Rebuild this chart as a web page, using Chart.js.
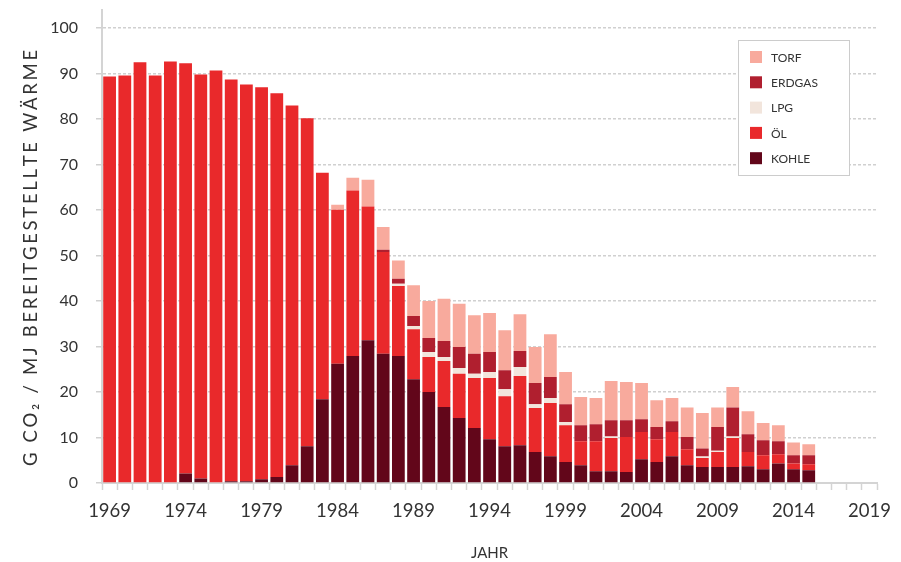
<!DOCTYPE html>
<html>
<head>
<meta charset="utf-8">
<script src="https://cdn.jsdelivr.net/npm/chart.js@4"></script>
<style>
  html, body { margin: 0; padding: 0; background: #fff; }
  #wrap { width: 901px; height: 562px; position: relative; }
</style>
</head>
<body>
<div id="wrap"><canvas id="mainGraph" width="901" height="562"></canvas></div>
<script>
// years on the x axis (data runs 1969-2015, axis continues to 2019)
const years = [1969,1970,1971,1972,1973,1974,1975,1976,1977,1978,1979,1980,1981,1982,1983,1984,1985,1986,1987,1988,
  1989,1990,1991,1992,1993,1994,1995,1996,1997,1998,1999,2000,2001,2002,2003,2004,2005,2006,2007,2008,
  2009,2010,2011,2012,2013,2014,2015,2016,2017,2018,2019];

// g CO2 / MJ, one value per year, stacked bottom -> top
const kohle = [0,0,0,0,0,2.1,1.0,0,0.4,0.4,0.8,1.3,3.9,8.1,18.4,26.2,27.9,31.4,28.4,27.9,
  22.8,20.0,16.7,14.3,12.1,9.6,8.1,8.3,6.8,5.9,4.6,3.9,2.6,2.6,2.4,5.2,4.6,5.9,3.9,3.5,
  3.5,3.5,3.7,3.0,4.3,3.0,2.8];
const oel = [89.4,89.6,92.5,89.6,92.7,90.2,88.8,90.7,88.3,87.2,86.2,84.4,79.1,72.1,49.8,33.9,36.4,29.4,22.4,15.4,
  11.0,7.7,10.1,9.7,11.0,13.5,11.0,15.2,9.7,11.7,8.1,5.3,6.6,7.3,7.7,6.0,5.0,5.3,3.5,2.0,
  3.3,6.4,3.1,3.1,2.0,1.3,1.3];
const lpg = [0,0,0,0,0,0,0,0,0,0,0,0,0,0,0,0,0,0,0,0.5,
  0.7,1.1,0.9,1.3,0.9,1.3,1.5,2.0,0.8,1.1,0.7,0,0,0.3,0,0,0,0,0,0.3,
  0.3,0.3,0,0,0,0,0];
const erdgas = [0,0,0,0,0,0,0,0,0,0,0,0,0,0,0,0,0,0,0.5,1.1,
  2.2,3.1,3.5,4.6,4.4,4.4,4.2,3.5,4.7,4.6,3.9,3.5,3.7,3.6,3.7,2.8,2.7,2.4,2.7,1.8,
  5.2,6.4,3.9,3.3,2.9,1.8,2.0];
const torf = [0,0,0,0,0,0,0,0,0,0,0,0,0,0,0,1.1,2.8,5.9,5.0,4.0,
  6.8,8.1,9.3,9.5,8.5,8.6,8.8,8.1,7.9,9.4,7.1,6.2,5.8,8.6,8.4,8.0,5.9,5.1,6.5,7.8,
  4.3,4.5,5.1,3.8,3.5,2.8,2.4];

const yTicks = [0,10,20,30,40,50,60,70,80,90,100];
const yTitle = 'G CO\u2082 / MJ BEREITGESTELLTE WÄRME';
const xTitle = 'JAHR';

Chart.defaults.font.family = 'Lato, "Open Sans", sans-serif';
Chart.defaults.color = '#333';

// legend box drawn inside the plot, top right
const boxLegend = {
  id: 'boxLegend',
  afterDraw(chart) {
    const ctx = chart.ctx;
    const x = 738.5, y = 40.5, w = 111, h = 135;
    ctx.save();
    ctx.fillStyle = '#fff';
    ctx.fillRect(x, y, w, h);
    ctx.strokeStyle = '#cccccc';
    ctx.lineWidth = 1;
    ctx.strokeRect(x, y, w, h);
    const sets = chart.data.datasets.slice().reverse();
    ctx.font = '12px Lato, sans-serif';
    ctx.textBaseline = 'middle';
    sets.forEach(function(ds, i) {
      const cy = 57 + i * 25.3;
      ctx.fillStyle = ds.backgroundColor;
      ctx.fillRect(750, cy - 6, 12, 12);
      ctx.fillStyle = '#333';
      ctx.fillText(ds.label, 771, cy + 1);
    });
    ctx.restore();
  }
};

// rotated, letter-spaced y axis title (drawn char by char)
const yAxisTitle = {
  id: 'yAxisTitle',
  afterDraw(chart) {
    const ctx = chart.ctx;
    const spacing = 2.7;
    ctx.save();
    ctx.translate(31, 258);
    ctx.rotate(-Math.PI / 2);
    ctx.font = '18.5px Lato, sans-serif';
    ctx.fillStyle = '#333';
    ctx.textAlign = 'left';
    ctx.textBaseline = 'middle';
    const chars = Array.from(yTitle);
    let total = 0;
    chars.forEach(function(c) { total += ctx.measureText(c).width; });
    total += spacing * (chars.length - 1);
    let pos = -total / 2;
    chars.forEach(function(c) {
      ctx.fillText(c, pos, 0);
      pos += ctx.measureText(c).width + spacing;
    });
    ctx.restore();
  }
};

const data = {
  labels: years,
  datasets: [
    { label: 'KOHLE', data: kohle, backgroundColor: '#62061a' },
    { label: 'ÖL', data: oel, backgroundColor: '#e9292b' },
    { label: 'LPG', data: lpg, backgroundColor: '#f2e5dc' },
    { label: 'ERDGAS', data: erdgas, backgroundColor: '#b01f2f' },
    { label: 'TORF', data: torf, backgroundColor: '#f8aa9d' }
  ]
};

var ctx = document.getElementById('mainGraph').getContext('2d');
var chart = new Chart(ctx, {
  type: 'bar',
  data: data,
  plugins: [boxLegend, yAxisTitle],
  options: {
    responsive: false,
    animation: false,
    layout: { padding: { top: 10, right: 0, left: 0, bottom: 0 } },
    datasets: {
      bar: { categoryPercentage: 1, barPercentage: 0.84, borderWidth: 0 }
    },
    plugins: {
      legend: { display: false },
      tooltip: { enabled: false }
    },
    scales: {
      x: {
        stacked: true,
        offset: true,
        grid: {
          offset: true,
          drawOnChartArea: false,
          drawTicks: true,
          tickLength: 7,
          tickColor: '#d4d4d4',
          tickWidth: 1.5
        },
        border: { color: '#d4d4d4', width: 2 },
        ticks: {
          autoSkip: false,
          maxRotation: 0,
          padding: 10,
          font: { size: 18.5 },
          color: '#333',
          callback: function(val, i) {
            const yr = years[i];
            return (yr - 1969) % 5 === 0 ? String(yr) : '';
          }
        },
        title: {
          display: true,
          text: xTitle,
          font: { size: 15 },
          color: '#333',
          padding: { top: 4, bottom: 0 }
        },
        afterFit: function(axis) { axis.height = 79; }
      },
      y: {
        stacked: true,
        min: 0,
        max: 104,
        afterBuildTicks: function(axis) {
          axis.ticks = yTicks.map(function(v) { return { value: v }; });
        },
        grid: {
          color: '#d0d0d0',
          lineWidth: 1.5,
          tickLength: 6,
          tickColor: '#d0d0d0',
          tickBorderDash: []
        },
        border: { color: '#d4d4d4', width: 2, dash: [3, 2] },
        ticks: {
          padding: 18,
          font: { size: 16 },
          color: '#333'
        },
        afterFit: function(axis) {
          axis.width = 102;
          axis.paddingTop = 0;
          axis.paddingBottom = 0;
        }
      }
    }
  }
});
</script>
</body>
</html>
